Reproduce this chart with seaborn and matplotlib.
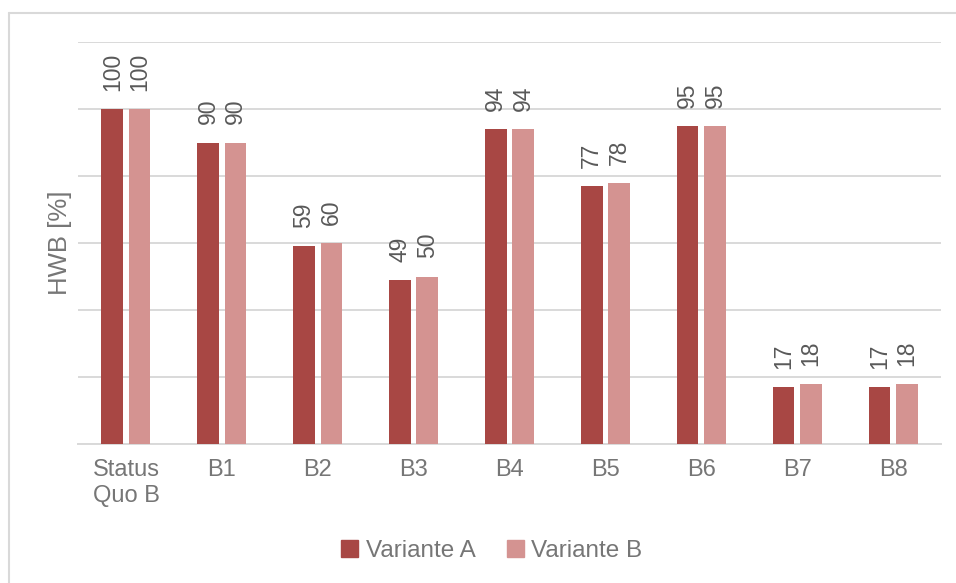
import matplotlib
matplotlib.use("Agg")
import matplotlib.pyplot as plt
from matplotlib.lines import Line2D
import seaborn as sns
import pandas as pd
import numpy as np

# Scenario data: relative HWB per variant
categories = ["Status\nQuo B", "B1", "B2", "B3", "B4", "B5", "B6", "B7", "B8"]
variante_a = [100, 90, 59, 49, 94, 77, 95, 17, 17]
variante_b = [100, 90, 60, 50, 94, 78, 95, 18, 18]
series_names = ["Variante A", "Variante B"]
colors = ["#A84744", "#D49391"]

df = pd.DataFrame({
    "Szenario": categories * 2,
    "HWB": variante_a + variante_b,
    "Variante": [series_names[0]] * len(categories) + [series_names[1]] * len(categories),
})

sns.set_theme(style="white")
plt.rcParams["font.family"] = ["Liberation Sans", "DejaVu Sans"]

fig = plt.figure(figsize=(9.56, 5.83), dpi=100)
ax = fig.add_axes([78 / 956, 1 - 444 / 583, (941 - 78) / 956, (444 - 42) / 583])

sns.barplot(data=df, x="Szenario", y="HWB", hue="Variante", order=categories,
            hue_order=series_names, palette=colors, width=0.57, gap=0.21,
            linewidth=0, saturation=1, ax=ax, legend=False, zorder=3)

for cont in ax.containers:
    ax.bar_label(cont, labels=[f"{v:.0f}" for v in cont.datavalues], rotation=90,
                 padding=13, fontsize=16.5, color="#595959")

ax.set_ylim(0, 120)
ax.set_xlim(-0.5, len(categories) - 0.5)
ax.set_yticks(np.arange(0, 121, 20))
ax.yaxis.grid(True, color="#D9D9D9", linewidth=1.4, zorder=0)
ax.tick_params(axis="y", left=False, labelleft=False)
ax.tick_params(axis="x", which="major", length=0, pad=11, labelsize=17, labelcolor="#767676")
ax.set_xticks(np.arange(-0.5, len(categories), 1), minor=True)
ax.tick_params(axis="x", which="minor", length=6, width=1.2, color="#D9D9D9")
for s in ["top", "right", "left"]:
    ax.spines[s].set_visible(False)
ax.spines["bottom"].set_color("#D9D9D9")
ax.spines["bottom"].set_linewidth(1.4)
ax.set_xlabel("")
ax.set_ylabel("HWB [%]", fontsize=18.5, color="#767676", labelpad=4)

# Outer chart frame (top and left edges visible)
fig.add_artist(Line2D([9 / 956, 1], [1 - 13 / 583, 1 - 13 / 583], color="#D9D9D9", lw=1.5))
fig.add_artist(Line2D([9 / 956, 9 / 956], [0, 1 - 13 / 583], color="#D9D9D9", lw=1.5))

handles = [plt.Rectangle((0, 0), 1, 1, color=c) for c in colors]
fig.legend(handles, series_names, loc="center", bbox_to_anchor=(492 / 956, 1 - 551 / 583),
           ncol=2, frameon=False, fontsize=17.5, labelcolor="#767676",
           handlelength=0.7, handleheight=0.7, handletextpad=0.3, columnspacing=1.3)

fig.savefig("out.png", dpi=100, facecolor="white")
